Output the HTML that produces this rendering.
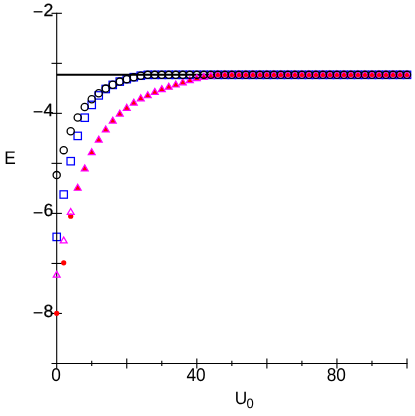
<!DOCTYPE html>
<html><head><meta charset="utf-8"><title>E vs U0</title>
<style>
html,body{margin:0;padding:0;background:#fff;}
body{width:415px;height:416px;overflow:hidden;position:relative;font-family:"Liberation Sans",sans-serif;}
</style></head><body>
<svg width="415" height="416" viewBox="0 0 415 416" style="position:absolute;left:0;top:0;will-change:transform">
<g stroke="#00f" stroke-width="1.25" fill="none">
<rect x="53.00" y="233.20" width="7.4" height="7.4"/>
<rect x="60.01" y="190.80" width="7.4" height="7.4"/>
<rect x="67.01" y="157.50" width="7.4" height="7.4"/>
<rect x="74.02" y="132.20" width="7.4" height="7.4"/>
<rect x="81.02" y="114.00" width="7.4" height="7.4"/>
<rect x="88.03" y="101.20" width="7.4" height="7.4"/>
<rect x="95.04" y="91.70" width="7.4" height="7.4"/>
<rect x="102.04" y="85.30" width="7.4" height="7.4"/>
<rect x="109.05" y="81.20" width="7.4" height="7.4"/>
<rect x="116.05" y="77.90" width="7.4" height="7.4"/>
<rect x="123.06" y="75.45" width="7.4" height="7.4"/>
<rect x="130.07" y="73.50" width="7.4" height="7.4"/>
<rect x="137.07" y="72.00" width="7.4" height="7.4"/>
<rect x="144.08" y="71.15" width="7.4" height="7.4"/>
<rect x="151.08" y="71.15" width="7.4" height="7.4"/>
<rect x="158.09" y="71.15" width="7.4" height="7.4"/>
<rect x="165.10" y="71.15" width="7.4" height="7.4"/>
<rect x="172.10" y="71.15" width="7.4" height="7.4"/>
<rect x="179.11" y="71.15" width="7.4" height="7.4"/>
<rect x="186.11" y="71.15" width="7.4" height="7.4"/>
<rect x="193.12" y="71.15" width="7.4" height="7.4"/>
<rect x="200.13" y="71.15" width="7.4" height="7.4"/>
<rect x="207.13" y="71.15" width="7.4" height="7.4"/>
<rect x="214.14" y="71.15" width="7.4" height="7.4"/>
<rect x="221.14" y="71.15" width="7.4" height="7.4"/>
<rect x="228.15" y="71.15" width="7.4" height="7.4"/>
<rect x="235.16" y="71.15" width="7.4" height="7.4"/>
<rect x="242.16" y="71.15" width="7.4" height="7.4"/>
<rect x="249.17" y="71.15" width="7.4" height="7.4"/>
<rect x="256.17" y="71.15" width="7.4" height="7.4"/>
<rect x="263.18" y="71.15" width="7.4" height="7.4"/>
<rect x="270.19" y="71.15" width="7.4" height="7.4"/>
<rect x="277.19" y="71.15" width="7.4" height="7.4"/>
<rect x="284.20" y="71.15" width="7.4" height="7.4"/>
<rect x="291.20" y="71.15" width="7.4" height="7.4"/>
<rect x="298.21" y="71.15" width="7.4" height="7.4"/>
<rect x="305.22" y="71.15" width="7.4" height="7.4"/>
<rect x="312.22" y="71.15" width="7.4" height="7.4"/>
<rect x="319.23" y="71.15" width="7.4" height="7.4"/>
<rect x="326.23" y="71.15" width="7.4" height="7.4"/>
<rect x="333.24" y="71.15" width="7.4" height="7.4"/>
<rect x="340.25" y="71.15" width="7.4" height="7.4"/>
<rect x="347.25" y="71.15" width="7.4" height="7.4"/>
<rect x="354.26" y="71.15" width="7.4" height="7.4"/>
<rect x="361.26" y="71.15" width="7.4" height="7.4"/>
<rect x="368.27" y="71.15" width="7.4" height="7.4"/>
<rect x="375.28" y="71.15" width="7.4" height="7.4"/>
<rect x="382.28" y="71.15" width="7.4" height="7.4"/>
<rect x="389.29" y="71.15" width="7.4" height="7.4"/>
<rect x="396.29" y="71.15" width="7.4" height="7.4"/>
<rect x="403.30" y="71.15" width="7.4" height="7.4"/>
</g>
<line x1="56.7" y1="74.75" x2="407.0" y2="74.75" stroke="#000" stroke-width="2.0"/>
<g stroke="#f0f" stroke-width="1.2" fill="#f00">
<path d="M77.72 184.25L81.18 190.25L74.25 190.25Z"/>
<path d="M84.72 164.90L88.19 170.90L81.26 170.90Z"/>
<path d="M91.73 148.70L95.19 154.70L88.27 154.70Z"/>
<path d="M98.74 136.10L102.20 142.10L95.27 142.10Z"/>
<path d="M105.74 125.95L109.21 131.95L102.28 131.95Z"/>
<path d="M112.75 117.10L116.21 123.10L109.28 123.10Z"/>
<path d="M119.75 110.10L123.22 116.10L116.29 116.10Z"/>
<path d="M126.76 104.30L130.22 110.30L123.30 110.30Z"/>
<path d="M133.77 99.10L137.23 105.10L130.30 105.10Z"/>
<path d="M140.77 94.80L144.24 100.80L137.31 100.80Z"/>
<path d="M147.78 91.75L151.24 97.75L144.31 97.75Z"/>
<path d="M154.78 88.40L158.25 94.40L151.32 94.40Z"/>
<path d="M161.79 85.60L165.25 91.60L158.33 91.60Z"/>
<path d="M168.80 83.20L172.26 89.20L165.33 89.20Z"/>
<path d="M175.80 81.00L179.27 87.00L172.34 87.00Z"/>
<path d="M182.81 78.80L186.27 84.80L179.34 84.80Z"/>
<path d="M189.81 76.70L193.28 82.70L186.35 82.70Z"/>
<path d="M196.82 74.60L200.28 80.60L193.36 80.60Z"/>
<path d="M203.83 73.20L207.29 79.20L200.36 79.20Z"/>
<path d="M210.83 72.10L214.30 78.10L207.37 78.10Z"/>
<path d="M217.84 70.95L221.30 76.95L214.37 76.95Z"/>
<path d="M224.84 70.95L228.31 76.95L221.38 76.95Z"/>
<path d="M231.85 70.95L235.31 76.95L228.39 76.95Z"/>
<path d="M238.86 70.95L242.32 76.95L235.39 76.95Z"/>
<path d="M245.86 70.95L249.33 76.95L242.40 76.95Z"/>
<path d="M252.87 70.95L256.33 76.95L249.40 76.95Z"/>
<path d="M259.87 70.95L263.34 76.95L256.41 76.95Z"/>
<path d="M266.88 70.95L270.34 76.95L263.42 76.95Z"/>
<path d="M273.89 70.95L277.35 76.95L270.42 76.95Z"/>
<path d="M280.89 70.95L284.36 76.95L277.43 76.95Z"/>
<path d="M287.90 70.95L291.36 76.95L284.43 76.95Z"/>
<path d="M294.90 70.95L298.37 76.95L291.44 76.95Z"/>
<path d="M301.91 70.95L305.37 76.95L298.45 76.95Z"/>
<path d="M308.92 70.95L312.38 76.95L305.45 76.95Z"/>
<path d="M315.92 70.95L319.39 76.95L312.46 76.95Z"/>
<path d="M322.93 70.95L326.39 76.95L319.46 76.95Z"/>
<path d="M329.93 70.95L333.40 76.95L326.47 76.95Z"/>
<path d="M336.94 70.95L340.40 76.95L333.48 76.95Z"/>
<path d="M343.95 70.95L347.41 76.95L340.48 76.95Z"/>
<path d="M350.95 70.95L354.42 76.95L347.49 76.95Z"/>
<path d="M357.96 70.95L361.42 76.95L354.49 76.95Z"/>
<path d="M364.96 70.95L368.43 76.95L361.50 76.95Z"/>
<path d="M371.97 70.95L375.43 76.95L368.51 76.95Z"/>
<path d="M378.98 70.95L382.44 76.95L375.51 76.95Z"/>
<path d="M385.98 70.95L389.45 76.95L382.52 76.95Z"/>
<path d="M392.99 70.95L396.45 76.95L389.52 76.95Z"/>
<path d="M399.99 70.95L403.46 76.95L396.53 76.95Z"/>
<path d="M407.00 70.95L410.46 76.95L403.54 76.95Z"/>
</g>
<g fill="#f00">
<circle cx="217.84" cy="75.05" r="1.9"/>
<circle cx="224.84" cy="75.05" r="1.9"/>
<circle cx="231.85" cy="75.05" r="1.9"/>
<circle cx="238.86" cy="75.05" r="1.9"/>
<circle cx="245.86" cy="75.05" r="1.9"/>
<circle cx="252.87" cy="75.05" r="1.9"/>
<circle cx="259.87" cy="75.05" r="1.9"/>
<circle cx="266.88" cy="75.05" r="1.9"/>
<circle cx="273.89" cy="75.05" r="1.9"/>
<circle cx="280.89" cy="75.05" r="1.9"/>
<circle cx="287.90" cy="75.05" r="1.9"/>
<circle cx="294.90" cy="75.05" r="1.9"/>
<circle cx="301.91" cy="75.05" r="1.9"/>
<circle cx="308.92" cy="75.05" r="1.9"/>
<circle cx="315.92" cy="75.05" r="1.9"/>
<circle cx="322.93" cy="75.05" r="1.9"/>
<circle cx="329.93" cy="75.05" r="1.9"/>
<circle cx="336.94" cy="75.05" r="1.9"/>
<circle cx="343.95" cy="75.05" r="1.9"/>
<circle cx="350.95" cy="75.05" r="1.9"/>
<circle cx="357.96" cy="75.05" r="1.9"/>
<circle cx="364.96" cy="75.05" r="1.9"/>
<circle cx="371.97" cy="75.05" r="1.9"/>
<circle cx="378.98" cy="75.05" r="1.9"/>
<circle cx="385.98" cy="75.05" r="1.9"/>
<circle cx="392.99" cy="75.05" r="1.9"/>
<circle cx="399.99" cy="75.05" r="1.9"/>
<circle cx="407.00" cy="75.05" r="1.9"/>
</g>
<g stroke="#000" stroke-width="1.3" fill="none">
<circle cx="56.70" cy="175.10" r="3.6"/>
<circle cx="63.71" cy="150.15" r="3.6"/>
<circle cx="70.71" cy="131.30" r="3.6"/>
<circle cx="77.72" cy="117.45" r="3.6"/>
<circle cx="84.72" cy="107.00" r="3.6"/>
<circle cx="91.73" cy="99.20" r="3.6"/>
<circle cx="98.74" cy="93.25" r="3.6"/>
<circle cx="105.74" cy="88.60" r="3.6"/>
<circle cx="112.75" cy="84.70" r="3.6"/>
<circle cx="119.75" cy="81.60" r="3.6"/>
<circle cx="126.76" cy="79.15" r="3.6"/>
<circle cx="133.77" cy="77.20" r="3.6"/>
<circle cx="140.77" cy="75.70" r="3.6"/>
<circle cx="147.78" cy="74.85" r="3.6"/>
<circle cx="154.78" cy="74.85" r="3.6"/>
<circle cx="161.79" cy="74.85" r="3.6"/>
<circle cx="168.80" cy="74.85" r="3.6"/>
<circle cx="175.80" cy="74.85" r="3.6"/>
<circle cx="182.81" cy="74.85" r="3.6"/>
<circle cx="189.81" cy="74.85" r="3.6"/>
<circle cx="196.82" cy="74.85" r="3.6"/>
<circle cx="203.83" cy="74.85" r="3.6"/>
<circle cx="210.83" cy="74.85" r="3.6"/>
<circle cx="217.84" cy="74.85" r="3.6"/>
<circle cx="224.84" cy="74.85" r="3.6"/>
<circle cx="231.85" cy="74.85" r="3.6"/>
<circle cx="238.86" cy="74.85" r="3.6"/>
<circle cx="245.86" cy="74.85" r="3.6"/>
<circle cx="252.87" cy="74.85" r="3.6"/>
<circle cx="259.87" cy="74.85" r="3.6"/>
<circle cx="266.88" cy="74.85" r="3.6"/>
<circle cx="273.89" cy="74.85" r="3.6"/>
<circle cx="280.89" cy="74.85" r="3.6"/>
<circle cx="287.90" cy="74.85" r="3.6"/>
<circle cx="294.90" cy="74.85" r="3.6"/>
<circle cx="301.91" cy="74.85" r="3.6"/>
<circle cx="308.92" cy="74.85" r="3.6"/>
<circle cx="315.92" cy="74.85" r="3.6"/>
<circle cx="322.93" cy="74.85" r="3.6"/>
<circle cx="329.93" cy="74.85" r="3.6"/>
<circle cx="336.94" cy="74.85" r="3.6"/>
<circle cx="343.95" cy="74.85" r="3.6"/>
<circle cx="350.95" cy="74.85" r="3.6"/>
<circle cx="357.96" cy="74.85" r="3.6"/>
<circle cx="364.96" cy="74.85" r="3.6"/>
<circle cx="371.97" cy="74.85" r="3.6"/>
<circle cx="378.98" cy="74.85" r="3.6"/>
<circle cx="385.98" cy="74.85" r="3.6"/>
<circle cx="392.99" cy="74.85" r="3.6"/>
<circle cx="399.99" cy="74.85" r="3.6"/>
<circle cx="407.00" cy="74.85" r="3.6"/>
</g>
<g stroke="#000" stroke-width="1.1" fill="none">
<line x1="56.7" y1="12.8" x2="56.7" y2="368.45"/>
<line x1="51.5" y1="363.45" x2="407.5" y2="363.45"/>
<line x1="51.5" y1="13.3" x2="61.900000000000006" y2="13.3"/>
<line x1="51.5" y1="63.35" x2="61.900000000000006" y2="63.35"/>
<line x1="51.5" y1="113.35" x2="61.900000000000006" y2="113.35"/>
<line x1="51.5" y1="163.35" x2="61.900000000000006" y2="163.35"/>
<line x1="51.5" y1="213.4" x2="61.900000000000006" y2="213.4"/>
<line x1="51.5" y1="263.45" x2="61.900000000000006" y2="263.45"/>
<line x1="51.5" y1="313.45" x2="61.900000000000006" y2="313.45"/>
<line x1="91.73" y1="360.84999999999997" x2="91.73" y2="366.05"/>
<line x1="126.76" y1="358.45" x2="126.76" y2="368.45"/>
<line x1="161.79" y1="360.84999999999997" x2="161.79" y2="366.05"/>
<line x1="196.82" y1="358.45" x2="196.82" y2="368.45"/>
<line x1="231.85" y1="360.84999999999997" x2="231.85" y2="366.05"/>
<line x1="266.88" y1="358.45" x2="266.88" y2="368.45"/>
<line x1="301.91" y1="360.84999999999997" x2="301.91" y2="366.05"/>
<line x1="336.94" y1="358.45" x2="336.94" y2="368.45"/>
<line x1="371.97" y1="360.84999999999997" x2="371.97" y2="366.05"/>
<line x1="407.00" y1="358.45" x2="407.00" y2="368.45"/>
</g>
<g fill="#f00">
<circle cx="56.70" cy="313.35" r="2.6"/>
<circle cx="63.71" cy="262.80" r="2.6"/>
<circle cx="70.71" cy="216.20" r="2.6"/>
</g>
<g stroke="#f0f" stroke-width="1.3" fill="none">
<path d="M56.70 271.30L60.08 277.15L53.32 277.15Z"/>
<path d="M63.71 237.00L67.08 242.85L60.33 242.85Z"/>
<path d="M70.71 208.50L74.09 214.35L67.33 214.35Z"/>
</g>
<g text-rendering="geometricPrecision" font-family="'Liberation Sans', sans-serif" font-size="17.3" fill="#000">
<text transform="translate(32.83 18.41) scale(1.05 1.08)">−</text>
<text transform="translate(53.30 16.35) scale(1.02 1.025)" stroke="#000" stroke-width="0.25" text-anchor="end">2</text>
<text transform="translate(32.83 118.46) scale(1.05 1.08)">−</text>
<text transform="translate(53.30 116.40) scale(1.02 1.025)" stroke="#000" stroke-width="0.25" text-anchor="end">4</text>
<text transform="translate(32.83 218.51) scale(1.05 1.08)">−</text>
<text transform="translate(53.30 216.45) scale(1.02 1.025)" stroke="#000" stroke-width="0.25" text-anchor="end">6</text>
<text transform="translate(32.83 318.56) scale(1.05 1.08)">−</text>
<text transform="translate(53.30 316.50) scale(1.02 1.025)" stroke="#000" stroke-width="0.25" text-anchor="end">8</text>
<text transform="translate(56.00 381.35) scale(1 1.07)" text-anchor="middle">0</text>
<text transform="translate(196.12 381.35) scale(1 1.07)" text-anchor="middle">40</text>
<text transform="translate(336.24 381.35) scale(1 1.07)" text-anchor="middle">80</text>
<text transform="translate(4.20 163.50) scale(1 1.06)">E</text>
<text transform="translate(234.80 403.50) scale(1 1.04)">U</text>
<text transform="translate(246.50 407.70) scale(1 1.04)" font-size="13">0</text>
</g>
</svg>
</body></html>
